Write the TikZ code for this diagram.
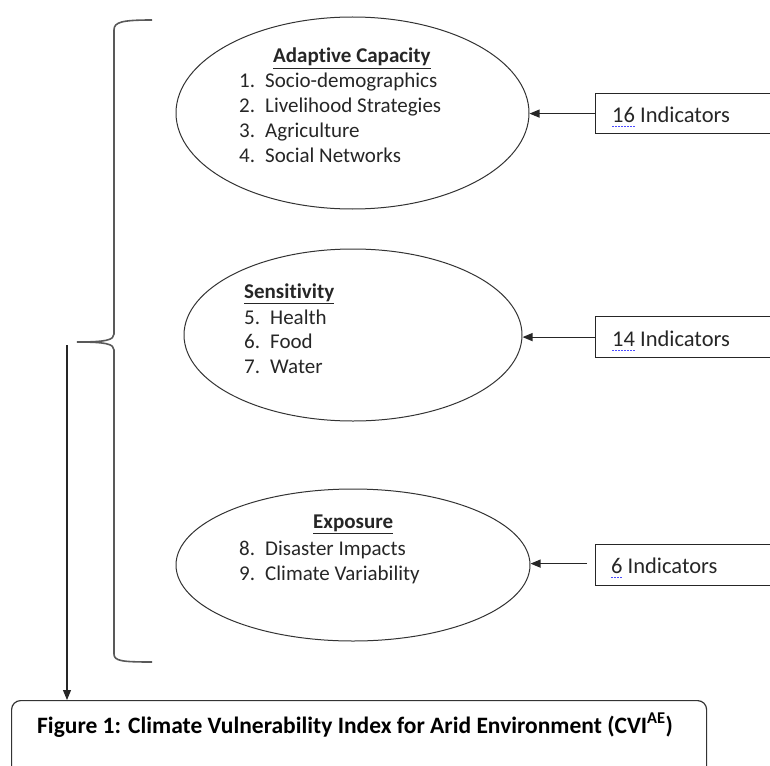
\documentclass[tikz,border=0pt]{standalone}
\usepackage{fontspec}
\setmainfont{Carlito}[Ligatures=NoCommon]
\usetikzlibrary{shapes.geometric,arrows.meta,calc}
\begin{document}
\begin{tikzpicture}[x=1pt,y=-1pt,
  ell/.style={draw=black!80,line width=1pt,ellipse,inner sep=0pt},
  txt/.style={anchor=base west,inner sep=0pt,font=\fontsize{21}{25}\selectfont,text=black!85},
  indbox/.style={draw=black!85,line width=1.2pt,anchor=north west,inner sep=0pt},
  indtxt/.style={anchor=base west,inner sep=0pt,font=\fontsize{22.5}{26}\selectfont,text=black!85},
  arr/.style={draw=black!85,line width=1.1pt,-{Triangle[length=10pt,width=8pt]}},
  brace/.style={draw=black!65,line width=1.6pt},
  squig/.style={draw=blue!70,line width=0.8pt,dash pattern=on 1.5pt off 1.5pt}]
\useasboundingbox (0,0) rectangle (770,765);
\clip (0,0) rectangle (770,765);

% ellipses
\node[ell,minimum width=353pt,minimum height=192pt] (e1) at (352.5,113) {};
\node[ell,minimum width=338pt,minimum height=172pt] (e2) at (353,335) {};
\node[ell,minimum width=354pt,minimum height=152pt] (e3) at (353,565) {};

% adaptive capacity text
\node[txt,font=\fontsize{21}{25}\selectfont\bfseries] (t1) at (273,63) {\underline{Adaptive Capacity}};
\node[txt] (n1) at (239,88) {1.};  \node[txt] (l1) at (265,88) {Socio-demographics};
\node[txt] (n2) at (239,113) {2.}; \node[txt] (l2) at (265,113) {Livelihood Strategies};
\node[txt] (n3) at (239,137) {3.}; \node[txt] (l3) at (265,137) {Agriculture};
\node[txt] (n4) at (239,162) {4.}; \node[txt] (l4) at (265,162) {Social Networks};

% sensitivity text
\node[txt,font=\fontsize{21}{25}\selectfont\bfseries] (t2) at (244,298) {\underline{Sensitivity}};
\node[txt] (n5) at (244,324) {5.}; \node[txt] (l5) at (270,324) {Health};
\node[txt] (n6) at (244,348) {6.}; \node[txt] (l6) at (270,348) {Food};
\node[txt] (n7) at (244,373) {7.}; \node[txt] (l7) at (270,373) {Water};

% exposure text
\node[txt,font=\fontsize{21}{25}\selectfont\bfseries] (t3) at (313,528) {\underline{Exposure}};
\node[txt] (n8) at (239,555) {8.}; \node[txt] (l8) at (265,555) {Disaster Impacts};
\node[txt] (n9) at (239,580) {9.}; \node[txt] (l9) at (265,580) {Climate Variability};

% indicator boxes
\node[indbox,minimum width=190pt,minimum height=40pt] (b1) at (595,93) {};
\node[indbox,minimum width=190pt,minimum height=41pt] (b2) at (595,316) {};
\node[indbox,minimum width=190pt,minimum height=41pt] (b3) at (595,544) {};
\node[indtxt] (i1) at (612,122) {16 Indicators};
\node[indtxt] (i2) at (612,346) {14 Indicators};
\node[indtxt] (i3) at (611,573) {6 Indicators};
\draw[squig] (612,126) -- (635,126);
\draw[squig] (612,350) -- (635,350);
\draw[squig] (611,577) -- (623,577);

% arrows from boxes to ellipses
\draw[arr] (b1.west) -- (b1.west -| e1.east);
\draw[arr] (b2.west) -- (b2.west -| e2.east);
\draw[arr,shorten <=8pt] ($(b3.west)+(0,-1.5)$) -- ($(b3.west -| e3.east)+(0,-1.5)$);

% brace
\coordinate (btop) at (152,20);
\coordinate (btip) at (77,342);
\coordinate (bbot) at (152,662);
\draw[brace] (btop) .. controls (122,20) and (114,22) .. (114,30) -- (114,334)
  .. controls (114,340) and (106,342) .. (btip)
  .. controls (106,342) and (114,344) .. (114,350) -- (114,654)
  .. controls (114,661) and (122,662) .. (bbot);

% bottom figure box
\node[draw=black!80,line width=1.2pt,rounded corners=9pt,anchor=north west,
  minimum width=695pt,minimum height=90pt,inner sep=0pt] (fig) at (11,700) {};
\node[anchor=base west,inner sep=0pt,font=\fontsize{23.5}{27}\selectfont\bfseries] (figtxt) at (37,733)
  {Figure 1: Climate Vulnerability Index for Arid Environment (CVI\textsuperscript{AE})};

% down arrow
\coordinate (dstart) at (67,345);
\draw[arr] (dstart) -- (dstart |- fig.north);
\end{tikzpicture}
\end{document}
